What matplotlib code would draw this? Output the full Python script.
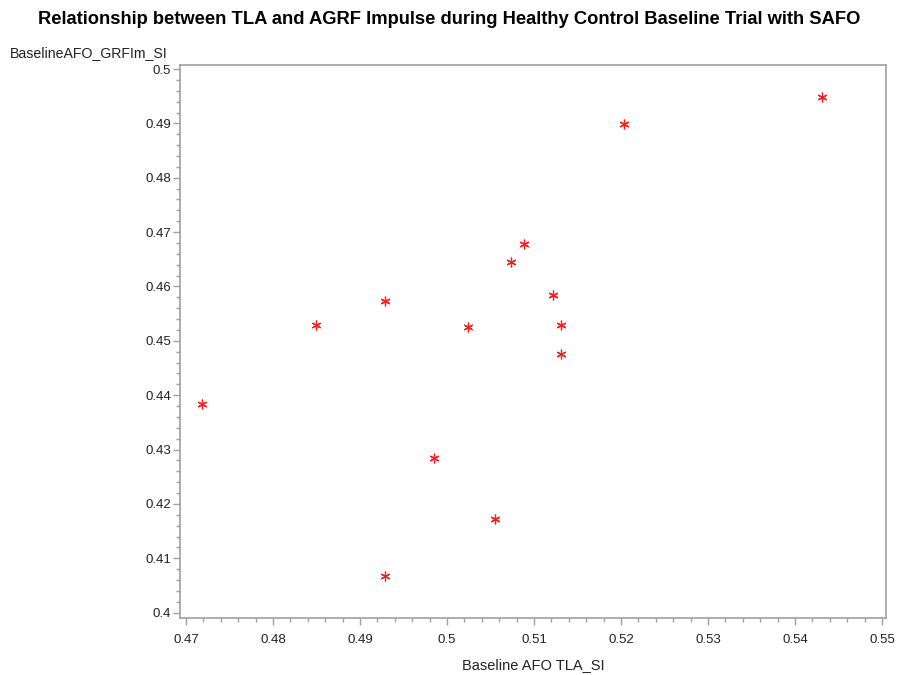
import matplotlib
matplotlib.use("Agg")
import matplotlib.pyplot as plt
from matplotlib.ticker import MultipleLocator, FuncFormatter

plt.rcParams['font.family'] = ['Liberation Sans', 'DejaVu Sans']

# Data
tla_si = [0.54310, 0.52034, 0.50885, 0.50732, 0.51215, 0.49284, 0.48494,
          0.50238, 0.51310, 0.51310, 0.47187, 0.49851, 0.50548, 0.49284]
grfim_si = [0.49485, 0.48988, 0.46780, 0.46450, 0.45849, 0.45738, 0.45292,
            0.45249, 0.45292, 0.44753, 0.43839, 0.42845, 0.41729, 0.40675]

title = "Relationship between TLA and AGRF Impulse during Healthy Control Baseline Trial with SAFO"
x_label = "Baseline AFO TLA_SI"
y_label = "BaselineAFO_GRFIm_SI"

W, H = 898, 675
fig = plt.figure(figsize=(W / 100, H / 100), dpi=100)
ax = fig.add_axes([180 / W, 1 - 618 / H, (886 - 180) / W, (618 - 65) / H])

ax.plot(tla_si, grfim_si, linestyle='none', marker=(6, 2, 0), markersize=7,
        markeredgecolor='#ff1a1a', markeredgewidth=0.9, color='#ff1a1a')

ax.set_xlim(0.46931, 0.55046)
ax.set_ylim(0.39902, 0.50074)

ax.xaxis.set_major_locator(MultipleLocator(0.01))
ax.xaxis.set_minor_locator(MultipleLocator(0.002))
ax.yaxis.set_major_locator(MultipleLocator(0.01))
ax.yaxis.set_minor_locator(MultipleLocator(0.002))

fmt = FuncFormatter(lambda v, p: ('%.2f' % v).rstrip('0').rstrip('.') if abs(v) > 1e-9 else '0')
ax.xaxis.set_major_formatter(fmt)
ax.yaxis.set_major_formatter(fmt)

spine_col = '#a0a0a0'
for s in ax.spines.values():
    s.set_color(spine_col)
    s.set_linewidth(1.2)

ax.tick_params(which='major', direction='out', length=5, width=1, color=spine_col,
               labelsize=9.5, labelcolor='#222222')
ax.tick_params(which='minor', direction='out', length=3, width=1, color=spine_col)
ax.tick_params(axis='x', which='major', pad=6.5)
ax.tick_params(axis='y', which='major', pad=1.5)

ax.set_xlabel(x_label, fontsize=10.5, color='#222222', labelpad=8.5)

fig.text(10 / W, 1 - 53 / H, y_label, fontsize=10.2, color='#222222',
         ha='left', va='center')
fig.text(0.5, 1 - 20 / H, title, fontsize=13.2, fontweight='bold',
         ha='center', va='center', color='black')

fig.savefig("out.png", dpi=100, facecolor='white')
